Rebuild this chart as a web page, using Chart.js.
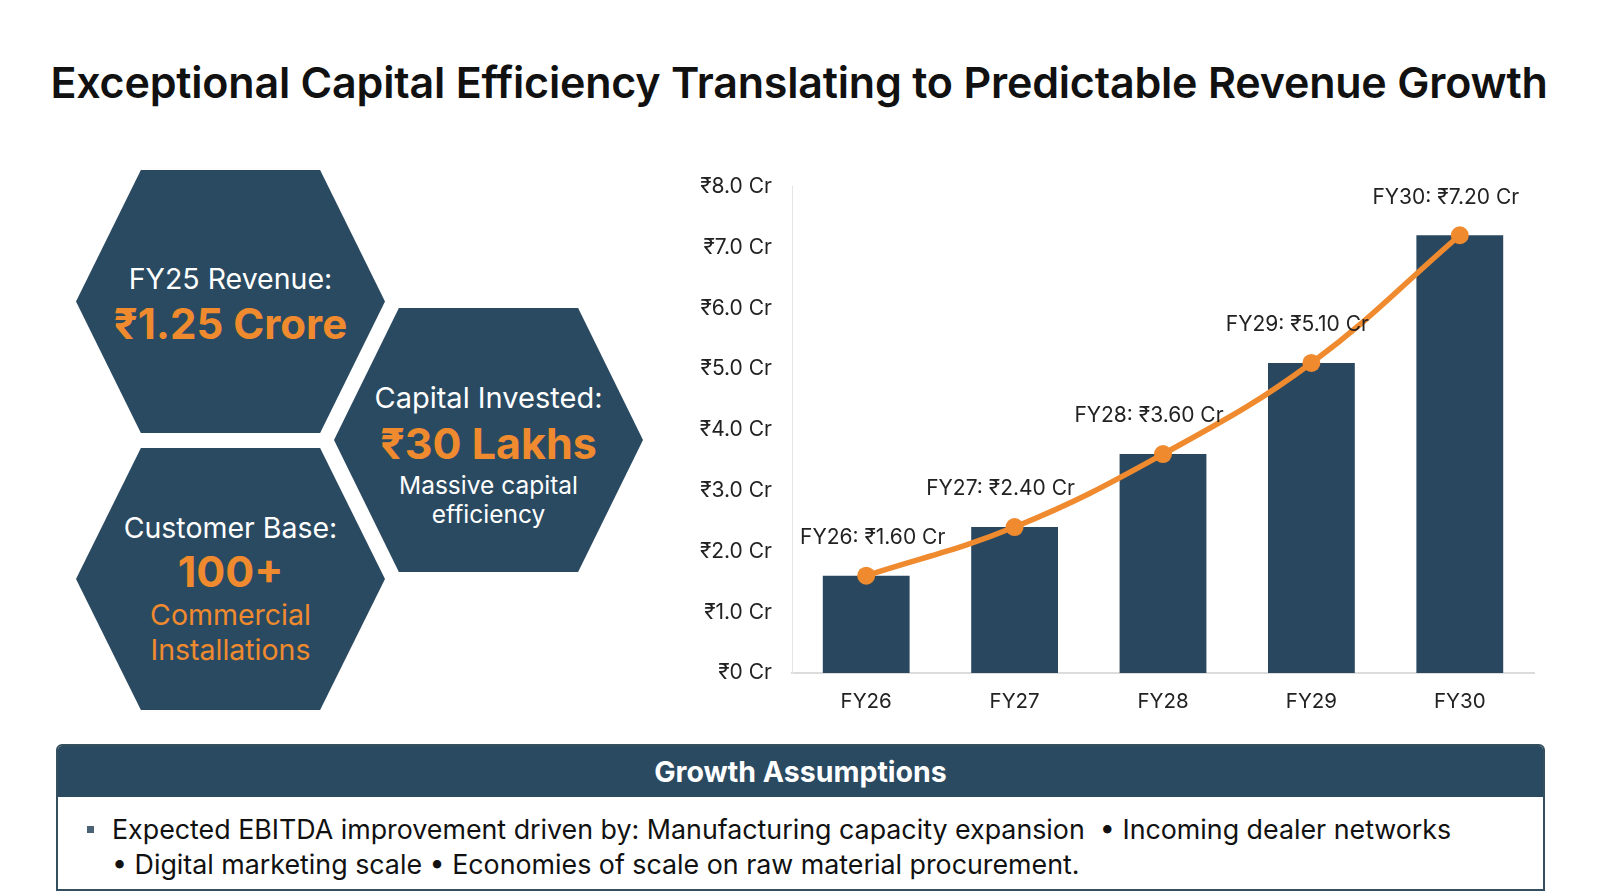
<!DOCTYPE html>
<html>
<head>
<meta charset="utf-8">
<script src="https://cdn.jsdelivr.net/npm/chart.js@4.4.1/dist/chart.umd.min.js"></script>
<style>
  html, body { margin: 0; padding: 0; background: #fff; }
  body { width: 1600px; height: 893px; position: relative; overflow: hidden;
         font-family: "Inter", "Noto Sans", "DejaVu Sans", sans-serif; color: #111; }
  #title { position: absolute; left: 0; top: 57px; width: 1598px; text-align: center;
           font-size: 43px; font-weight: 600; letter-spacing: -0.2px; line-height: 50px; }
  .hex { position: absolute; background: #2a4a61; color: #fff; text-align: center;
         clip-path: polygon(21% 0, 79% 0, 100% 50%, 79% 100%, 21% 100%, 0 50%); }
  .hex div { position: absolute; left: 0; width: 100%; white-space: nowrap; }
  .lbl { font-size: 28.5px; line-height: 34px; }
  .big { font-size: 42px; font-weight: 700; color: #f08a2e; line-height: 50px; }
  .sub { font-size: 24.5px; line-height: 30px; }
  .org { font-size: 28.5px; color: #f08a2e; line-height: 34px; }
  #chartBox { position: absolute; left: 690px; top: 154px; width: 860px; height: 573px; }
  #assume { position: absolute; left: 56px; top: 744px; width: 1485px; height: 143px;
            border: 2px solid #34505f; border-radius: 6px 6px 0 0; overflow: hidden; }
  #assume .head { background: #2a4a61; color: #fff; height: 51px; line-height: 51px;
                  text-align: center; font-size: 28.5px; font-weight: 700; }
  #assume .body { position: relative; padding: 15px 0 0 54px; font-size: 26.8px; line-height: 34.7px; color: #111; }
  #assume .sq { position: absolute; left: 29px; top: 29px; width: 7px; height: 7px; background: #4a6274; }
</style>
</head>
<body>
<div id="title">Exceptional Capital Efficiency Translating to Predictable Revenue Growth</div>

<div class="hex" style="left:76px; top:170px; width:309px; height:263px;">
  <div class="lbl" style="top:92px">FY25 Revenue:</div>
  <div class="big" style="top:129px">₹1.25 Crore</div>
</div>
<div class="hex" style="left:334px; top:308px; width:309px; height:264px;">
  <div class="lbl" style="top:73px; font-size:29px">Capital Invested:</div>
  <div class="big" style="top:110px; font-size:43px">₹30 Lakhs</div>
  <div class="sub" style="top:162px">Massive capital</div>
  <div class="sub" style="top:191px">efficiency</div>
</div>
<div class="hex" style="left:76px; top:448px; width:309px; height:262px;">
  <div class="lbl" style="top:63px">Customer Base:</div>
  <div class="big" style="top:98px; font-size:43px">100+</div>
  <div class="org" style="top:150px">Commercial</div>
  <div class="org" style="top:185px">Installations</div>
</div>

<div id="chartBox"><canvas id="revChart"></canvas></div>

<div id="assume">
  <div class="head">Growth Assumptions</div>
  <div class="body">
    <div class="sq"></div>
    Expected EBITDA improvement driven by: Manufacturing capacity expansion &nbsp;• Incoming dealer networks<br>• Digital marketing scale • Economies of scale on raw material procurement.
  </div>
</div>

<script>
const years = ["FY26", "FY27", "FY28", "FY29", "FY30"];
const revenue = [1.6, 2.4, 3.6, 5.1, 7.2];
const yTicks = [0, 1, 2, 3, 4, 5, 6, 7, 8];

const navy = "#29475e";
const orange = "#f08a2e";

/* value labels above the line points, kept inside the chart */
const pointLabels = {
  id: "pointLabels",
  afterDatasetsDraw(chart) {
    const meta = chart.getDatasetMeta(1);
    const c = chart.ctx;
    const area = chart.chartArea;
    c.save();
    c.font = "21px Inter, 'Noto Sans', sans-serif";
    c.fillStyle = "#222";
    c.textAlign = "center";
    c.textBaseline = "middle";
    meta.data.forEach((pt, i) => {
      const txt = years[i] + ": ₹" + revenue[i].toFixed(2) + " Cr";
      const w = c.measureText(txt).width;
      let x = pt.x - 14;
      x = Math.max(x, area.left + 8 + w / 2);
      x = Math.min(x, chart.width - 4 - w / 2);
      c.fillText(txt, x, pt.y - 38);
    });
    c.restore();
  }
};

const ctx = document.getElementById("revChart").getContext("2d");

new Chart(ctx, {
  data: {
    labels: years,
    datasets: [
      {
        type: "bar",
        data: revenue,
        backgroundColor: navy,
        categoryPercentage: 1,
        barPercentage: 0.585,
        order: 1
      },
      {
        type: "line",
        data: revenue,
        borderColor: orange,
        backgroundColor: orange,
        borderWidth: 5.5,
        tension: 0.4,
        pointRadius: 9,
        pointBackgroundColor: orange,
        pointBorderWidth: 0,
        order: 0
      }
    ]
  },
  options: {
    responsive: true,
    maintainAspectRatio: false,
    animation: false,
    layout: { padding: { top: 19, right: 16, left: 0, bottom: 0 } },
    plugins: { legend: { display: false }, tooltip: { enabled: false } },
    scales: {
      x: {
        grid: { display: false, drawTicks: false },
        border: { color: "#dcdcdc", width: 2 },
        ticks: { color: "#222", font: { size: 20.5, family: "Inter" }, padding: 17 },
        afterFit(s) { s.height = 54; }
      },
      y: {
        min: 0,
        max: 8,
        grid: { display: false, drawTicks: false },
        border: { color: "#e4e4e4", width: 1 },
        afterBuildTicks(s) { s.ticks = yTicks.map(v => ({ value: v })); },
        ticks: {
          color: "#222",
          font: { size: 21, family: "Inter" },
          padding: 20,
          callback: v => v === 0 ? "₹0 Cr" : "₹" + v.toFixed(1) + " Cr"
        },
        afterFit(s) { s.width = 102; }
      }
    }
  },
  plugins: [pointLabels]
});
</script>
</body>
</html>
